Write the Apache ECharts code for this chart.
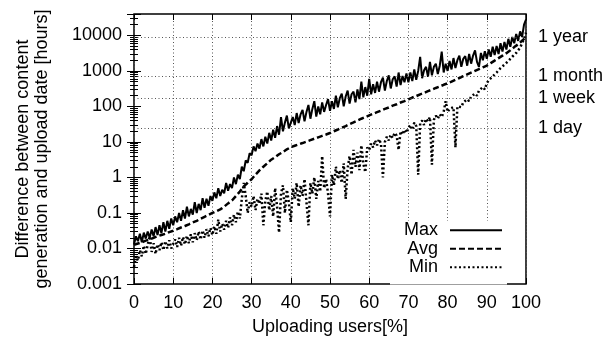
<!DOCTYPE html>
<html><head><meta charset="utf-8">
<script src="https://cdn.jsdelivr.net/npm/echarts@6/dist/echarts.min.js"></script>
<style>html,body{margin:0;padding:0;background:#fff}#c{width:607px;height:345px}</style>
</head><body><div id="c"></div>
<script>
// sampling step (percent of uploading users) for each series
const STEP_FINE = 0.5;
const STEP_AVG = 1;
const xTicks = [0,10,20,30,40,50,60,70,80,90,100];
const yTickLabels = ['0.001','0.01','0.1','1','10','100','1000','10000'];
const periodValues = [24, 168, 720, 8760];
const periodNames = ['1 day', '1 week', '1 month', '1 year'];
const seriesNames = ['Max', 'Avg', 'Min'];

// hours, x = 0, 0.5, ..., 100
const maxValues = [
0.013,0.022,0.016,0.026,0.015,0.028,0.019,0.03,0.02,0.034,0.022,0.04,0.024,0.045,0.027,0.055,0.03,0.06,0.036,0.07,
0.045,0.08,0.055,0.1,0.06,0.12,0.07,0.15,0.08,0.13,0.09,0.2,0.1,0.18,0.12,0.26,0.14,0.25,0.16,0.3,
0.22,0.38,0.26,0.5,0.3,0.45,0.36,0.7,0.42,0.65,0.5,1.0,0.65,1.2,0.9,2.0,1.5,3.0,2.6,4.8,
4.2,7.5,5.5,9,6.5,12,7.5,14,9,18,11,22,13,28,16,50,20,35,55,24,
26,50,30,65,34,60,80,38,70,110,45,85,140,52,100,60,130,70,110,160,
75,140,85,200,95,170,230,100,190,280,120,220,260,130,300,160,500,180,350,200,
600,220,420,240,500,260,480,650,280,520,750,320,580,700,360,900,400,720,480,850,
480,900,520,1100,560,1000,2500,620,1050,1300,680,1800,750,1300,1600,820,1400,3500,900,1600,
1000,1900,1100,2300,1200,2000,2700,1300,2200,2600,1400,3000,1600,2700,3800,1800,1300,3200,2000,3600,
2200,4000,2500,4800,2800,5000,3000,6000,3500,6500,4000,8000,4800,9000,6000,11000,7000,13000,9000,20000,28000
];
// hours, x = 0, 1, ..., 100
const avgValues = [
0.0126,0.0138,0.015,0.0166,0.018,0.02,0.022,0.024,0.026,0.029,
0.0316,0.035,0.039,0.043,0.048,0.054,0.06,0.069,0.078,0.088,
0.1,0.112,0.126,0.15,0.186,0.224,0.3,0.4,0.56,0.71,
0.89,1.2,1.58,2.0,2.5,3.16,3.7,4.5,5.2,6.2,
7.1,7.8,8.5,9.3,10.2,11.2,12.3,13.5,14.8,16.2,
17.8,20,22.4,25,28,31.6,35.5,40,45,50,
56,62,69,76,85,93,105,115,129,141,
158,178,195,219,240,269,295,331,363,407,
447,500,562,631,708,794,891,1000,1122,1259,
1413,1660,1950,2290,2690,3160,3800,4680,5620,7080,
8900
];
// hours, x = 0, 0.5, ..., 100
const minValues = [
0.003,0.006,0.0045,0.009,0.006,0.012,0.007,0.013,0.022,0.008,0.014,0.007,0.013,0.009,0.015,0.009,0.016,0.01,0.017,0.01,
0.009,0.018,0.011,0.02,0.012,0.021,0.013,0.023,0.014,0.025,0.015,0.027,0.017,0.03,0.018,0.032,0.02,0.035,0.022,0.038,
0.024,0.042,0.026,0.065,0.03,0.05,0.034,0.06,0.038,0.075,0.045,0.09,0.055,0.11,0.07,0.25,0.7,0.3,0.1,0.2,
0.15,0.3,0.12,0.25,0.18,0.35,0.045,0.22,0.4,0.12,0.3,0.08,0.5,0.15,0.028,0.35,0.6,0.1,0.45,0.2,
0.055,0.5,0.25,0.7,0.15,0.6,0.3,0.9,0.2,0.045,0.7,0.35,1.0,0.25,0.8,0.4,4,0.5,0.9,0.35,
0.08,1.2,0.6,2,0.9,1.6,0.7,2.5,0.25,1.8,4,1.2,6,2,5,1.6,8,2.5,1.4,7,
6,9,7,11,8,12,9,1,10,14,11,16,13,18,15,6,20,16,22,18,
25,30,22,35,28,1.2,33,40,30,45,38,50,2.3,42,55,45,60,50,70,140,
70,85,75,95,7,100,110,95,130,115,160,140,190,170,230,200,280,250,350,300,
450,550,500,700,650,900,850,1200,1100,1500,1400,1900,1800,2500,2300,3200,3500,4500,6000,8000,12000
];

const FONT = "'Liberation Sans', Arial, Helvetica, sans-serif";
const toPairs = (arr, step) => arr.map((v, i) => [i * step, v]);
const gridDots = { color: '#555', width: 1, type: [1, 2.5] };

function yLabel(v) {
  const l = Math.log10(v);
  const e = Math.round(l);
  if (Math.abs(l - e) > 1e-6) return '';
  return yTickLabels[e + 3] || '';
}

const chart = echarts.init(document.getElementById('c'), null, { renderer: 'canvas' });
chart.setOption({
  animation: false,
  backgroundColor: '#fff',
  textStyle: { fontFamily: FONT, color: '#000' },
  grid: { left: 134, right: 81, top: 14, bottom: 61, show: true, borderColor: '#000', borderWidth: 1.5, backgroundColor: 'transparent' },
  legend: {
    data: seriesNames,
    orient: 'vertical',
    right: 100,
    top: 221,
    align: 'right',
    itemWidth: 52,
    itemHeight: 12,
    itemGap: 0,
    padding: [0, 4, 8, 8],
    backgroundColor: '#fff',
    selectedMode: false,
    itemStyle: { opacity: 0 },
    textStyle: { fontSize: 18, color: '#000', fontFamily: FONT, width: 40, lineHeight: 18.5, padding: [0, 7, 0, 0] }
  },
  xAxis: [{
    type: 'value', min: 0, max: 100, interval: 10,
    axisLine: { show: false },
    axisTick: { inside: true, length: 6, lineStyle: { color: '#000', width: 1 } },
    axisLabel: { fontSize: 18, color: '#000', margin: 10, fontFamily: FONT,
      formatter: v => (xTicks.indexOf(v) >= 0 ? String(v) : '') },
    splitLine: { show: true, lineStyle: gridDots },
    name: 'Uploading users[%]', nameLocation: 'middle', nameGap: 34,
    nameTextStyle: { fontSize: 18, color: '#000', fontFamily: FONT }
  }, {
    type: 'value', min: 0, max: 100, interval: 10, position: 'top',
    axisLine: { show: false },
    axisTick: { inside: true, length: 6, lineStyle: { color: '#000', width: 1 } },
    axisLabel: { show: false }, splitLine: { show: false }
  }],
  yAxis: [{
    type: 'log', logBase: 10, min: 0.001, max: 40000, position: 'left',
    axisLine: { show: false },
    axisTick: { inside: true, length: 7, lineStyle: { color: '#000', width: 1 } },
    minorTick: { show: true, splitNumber: 9, length: 4, lineStyle: { color: '#000', width: 1 } },
    splitLine: { show: false },
    axisLabel: { fontSize: 18, color: '#000', margin: 12, fontFamily: FONT, formatter: yLabel },
    name: 'Difference between content\ngeneration and upload date [hours]',
    nameLocation: 'middle', nameRotate: 90, nameGap: 82,
    nameTextStyle: { fontSize: 18, lineHeight: 19, color: '#000', fontFamily: FONT, align: 'center' }
  }, {
    type: 'log', logBase: 10, min: 0.001, max: 40000, position: 'right',
    axisLine: { show: false },
    axisTick: { inside: true, length: 7, lineStyle: { color: '#000', width: 1 } },
    minorTick: { show: true, splitNumber: 9, length: 4, lineStyle: { color: '#000', width: 1 } },
    splitLine: { show: false },
    axisLabel: { show: false }
  }],
  series: [{
    name: seriesNames[0], type: 'line', symbol: 'none', z: 3,
    data: toPairs(maxValues, STEP_FINE),
    lineStyle: { color: '#000', width: 2 },
    itemStyle: { color: '#000' },
    markLine: {
      silent: true, symbol: ['none', 'none'],
      lineStyle: gridDots,
      label: { show: true, position: 'end', distance: 12, formatter: '{b}', fontSize: 18, color: '#000', fontFamily: FONT },
      data: periodValues.map((v, i) => ({ yAxis: v, name: periodNames[i] }))
    }
  }, {
    name: seriesNames[1], type: 'line', symbol: 'none', z: 4,
    data: toPairs(avgValues, STEP_AVG),
    lineStyle: { color: '#000', width: 2.5, type: [6, 3] },
    itemStyle: { color: '#000' }
  }, {
    name: seriesNames[2], type: 'line', symbol: 'none', z: 2,
    data: toPairs(minValues, STEP_FINE),
    lineStyle: { color: '#000', width: 2.5, type: [2, 2.5] },
    itemStyle: { color: '#000' }
  }]
});
</script>
</body></html>
